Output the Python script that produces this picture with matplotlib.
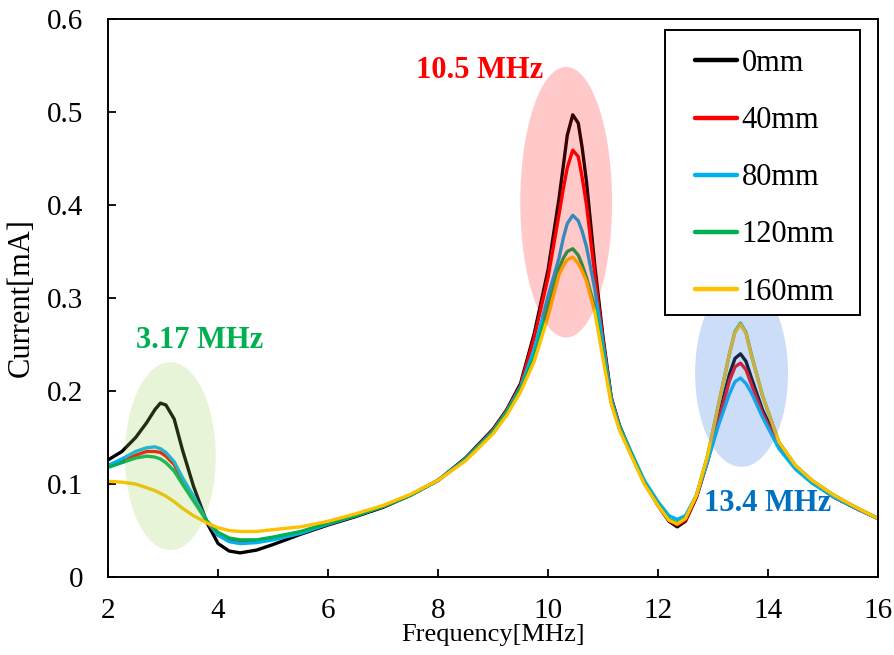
import matplotlib.pyplot as plt
from matplotlib.patches import Ellipse, Rectangle

# frequency grid [MHz] the curves were read on
freq = [2.0, 2.25, 2.5, 2.7, 2.85, 2.95, 3.05, 3.2, 3.35, 3.55, 3.8, 4.0, 4.2, 4.4, 4.7,
        5.0, 5.5, 6.0, 6.5, 7.0, 7.5, 8.0, 8.5, 9.0, 9.25, 9.5, 9.75, 10.0, 10.2, 10.28, 10.35,
        10.45, 10.55, 10.62, 10.7, 10.85, 11.0, 11.15, 11.3, 11.5, 11.75, 12.0, 12.2, 12.35, 12.5,
        12.7, 12.9, 13.1, 13.3, 13.4, 13.5, 13.6, 13.7, 13.9, 14.2, 14.5, 14.8, 15.2, 15.6, 16.0]

# current [mA] for each distance
i_0mm = [0.126, 0.135, 0.150, 0.166, 0.180, 0.187, 0.185, 0.170, 0.137, 0.098, 0.058, 0.036, 0.028, 0.026, 0.029,
         0.035, 0.046, 0.056, 0.065, 0.075, 0.088, 0.104, 0.128, 0.159, 0.180, 0.208, 0.262, 0.330, 0.407, 0.443, 0.475,
         0.497, 0.488, 0.462, 0.425, 0.335, 0.258, 0.193, 0.163, 0.135, 0.102, 0.077, 0.060, 0.054, 0.060,
         0.086, 0.125, 0.172, 0.218, 0.235, 0.240, 0.232, 0.214, 0.180, 0.142, 0.118, 0.102, 0.086, 0.074, 0.063]
i_40mm = [0.119, 0.125, 0.131, 0.135, 0.135, 0.134, 0.130, 0.121, 0.104, 0.085, 0.059, 0.045, 0.039, 0.037, 0.038,
          0.041, 0.048, 0.057, 0.066, 0.076, 0.088, 0.104, 0.127, 0.158, 0.179, 0.206, 0.258, 0.322, 0.390, 0.418, 0.440,
          0.459, 0.452, 0.430, 0.400, 0.325, 0.255, 0.192, 0.162, 0.135, 0.102, 0.078, 0.061, 0.056, 0.061,
          0.086, 0.124, 0.168, 0.211, 0.226, 0.230, 0.223, 0.207, 0.176, 0.141, 0.118, 0.102, 0.086, 0.074, 0.063]
i_80mm = [0.120, 0.127, 0.135, 0.139, 0.140, 0.138, 0.134, 0.124, 0.107, 0.087, 0.060, 0.045, 0.038, 0.036, 0.037,
          0.040, 0.047, 0.057, 0.066, 0.076, 0.088, 0.104, 0.127, 0.157, 0.178, 0.204, 0.245, 0.302, 0.343, 0.365, 0.380,
          0.389, 0.383, 0.372, 0.355, 0.310, 0.250, 0.191, 0.162, 0.136, 0.104, 0.081, 0.066, 0.062, 0.066,
          0.088, 0.124, 0.163, 0.197, 0.210, 0.214, 0.208, 0.198, 0.172, 0.138, 0.116, 0.101, 0.086, 0.074, 0.063]
i_120mm = [0.118, 0.123, 0.128, 0.130, 0.129, 0.127, 0.123, 0.114, 0.100, 0.082, 0.060, 0.048, 0.042, 0.040, 0.040,
           0.043, 0.049, 0.058, 0.066, 0.076, 0.088, 0.104, 0.126, 0.156, 0.177, 0.202, 0.236, 0.290, 0.332, 0.343, 0.350,
           0.353, 0.346, 0.336, 0.322, 0.290, 0.240, 0.188, 0.160, 0.134, 0.101, 0.078, 0.062, 0.058, 0.063,
           0.088, 0.130, 0.185, 0.240, 0.264, 0.273, 0.263, 0.239, 0.195, 0.145, 0.120, 0.104, 0.088, 0.075, 0.063]
i_160mm = [0.103, 0.102, 0.100, 0.096, 0.093, 0.090, 0.087, 0.081, 0.074, 0.066, 0.058, 0.053, 0.050, 0.049, 0.049,
           0.051, 0.054, 0.060, 0.068, 0.077, 0.089, 0.104, 0.125, 0.154, 0.174, 0.199, 0.232, 0.280, 0.325, 0.335, 0.341,
           0.344, 0.337, 0.329, 0.318, 0.285, 0.235, 0.186, 0.158, 0.132, 0.100, 0.077, 0.061, 0.057, 0.063,
           0.088, 0.130, 0.185, 0.240, 0.263, 0.272, 0.262, 0.238, 0.195, 0.145, 0.120, 0.104, 0.088, 0.075, 0.063]

labels = ["0mm", "40mm", "80mm", "120mm", "160mm"]
colors = ["#000000", "#ff0000", "#00b0f0", "#00b050", "#ffc000"]

plt.rcParams['font.family'] = ['Liberation Serif', 'DejaVu Serif']

fig = plt.figure(figsize=(8.94, 6.55), dpi=100)
ax = fig.add_axes([0.121, 0.119, 0.861, 0.852])

for y, lab, c in zip([i_0mm, i_40mm, i_80mm, i_120mm, i_160mm], labels, colors):
    ax.plot(freq, y, color=c, lw=2.4, label=lab, solid_capstyle='round')

# highlight ellipses (drawn semi-transparent over the curves)
ax.add_patch(Ellipse((3.13, 0.130), 1.65, 0.202, color="#92d050", alpha=0.22, lw=0, zorder=3))
ax.add_patch(Ellipse((10.33, 0.403), 1.67, 0.291, color="#ff0000", alpha=0.21, lw=0, zorder=3))
ax.add_patch(Ellipse((13.52, 0.219), 1.69, 0.201, color="#4a86e8", alpha=0.28, lw=0, zorder=3))

ax.text(8.76, 0.545, "10.5 MHz", color="#ff0000", fontsize=22, fontweight="bold", ha="center", va="center")
ax.text(3.67, 0.254, "3.17 MHz", color="#00b050", fontsize=22, fontweight="bold", ha="center", va="center")
ax.text(14.0, 0.079, "13.4 MHz", color="#0070c0", fontsize=22, fontweight="bold", ha="center", va="center")

ax.set_xlim(2, 16)
ax.set_ylim(0, 0.6)
ax.set_xticks([2, 4, 6, 8, 10, 12, 14, 16])
ax.set_yticks([0, 0.1, 0.2, 0.3, 0.4, 0.5, 0.6])
ax.set_yticklabels(["0", "0.1", "0.2", "0.3", "0.4", "0.5", "0.6"])
ax.tick_params(direction="in", length=6, width=1.3, labelsize=21)
ax.tick_params(axis="x", pad=15)
ax.tick_params(axis="y", pad=18)
for s in ax.spines.values():
    s.set_linewidth(1.4)

ax.set_xlabel("Frequency[MHz]", fontsize=19, labelpad=0)
ax.set_ylabel("Current[mA]", fontsize=22, va="center")
ax.yaxis.set_label_coords(-0.113, 0.5)

# legend frame drawn separately so its padding can match the original
ax.add_patch(Rectangle((0.723, 0.470), 0.254, 0.510, transform=ax.transAxes, fill=True,
                       facecolor="white", edgecolor="black", lw=1.4, zorder=4))
leg = ax.legend(loc="upper left", bbox_to_anchor=(0.762, 0.946), fontsize=22, frameon=False,
                handlelength=1.4, handletextpad=0.13, labelspacing=0.92, borderpad=0, borderaxespad=0)
leg.set_zorder(5)
for h in leg.get_lines():
    h.set_linewidth(3.2)

fig.savefig("out.png", dpi=100)
